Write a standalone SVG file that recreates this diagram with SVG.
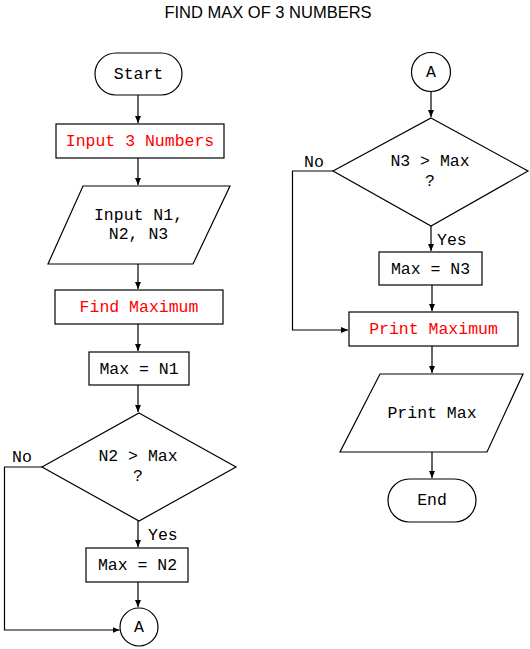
<svg xmlns="http://www.w3.org/2000/svg" width="530" height="649" viewBox="0 0 530 649">
<style>
.s{fill:#fff;stroke:#000;stroke-width:1.2}
.t{font-family:"Liberation Mono","Courier New",monospace;font-size:16.5px;fill:#000;text-anchor:middle}
.r{fill:#ff0000}
.l{font-family:"Liberation Mono","Courier New",monospace;font-size:16.5px;fill:#000}
.c{fill:none;stroke:#000;stroke-width:1.2}
</style>
<defs>
<marker id="ah" markerWidth="8" markerHeight="8" refX="7" refY="4" orient="auto" markerUnits="userSpaceOnUse">
<path d="M0,1 L7,4 L0,7 Z" fill="#000"/>
</marker>
</defs>
<rect width="530" height="649" fill="#fff"/>
<text x="268" y="18" font-family="Liberation Sans, Arial, sans-serif" font-size="16.5" text-anchor="middle">FIND MAX OF 3 NUMBERS</text>
<g id="connectors">
<path class="c" d="M138,95 V123" marker-end="url(#ah)"/>
<path class="c" d="M138,158 V185" marker-end="url(#ah)"/>
<path class="c" d="M138,264 V289" marker-end="url(#ah)"/>
<path class="c" d="M138,324 V351" marker-end="url(#ah)"/>
<path class="c" d="M138,385 V412" marker-end="url(#ah)"/>
<path class="c" d="M138,521 V547" marker-end="url(#ah)"/>
<path class="c" d="M138,582 V607" marker-end="url(#ah)"/>
<path class="c" d="M42,467 H4.5 V630 H119.5" marker-end="url(#ah)"/>
<path class="c" d="M431,91 V117" marker-end="url(#ah)"/>
<path class="c" d="M431,226 V251" marker-end="url(#ah)"/>
<path class="c" d="M432,285 V311" marker-end="url(#ah)"/>
<path class="c" d="M333,171 H292.5 V330 H348" marker-end="url(#ah)"/>
<path class="c" d="M432,346 V373" marker-end="url(#ah)"/>
<path class="c" d="M432,452 V478" marker-end="url(#ah)"/>
<text class="l" x="12" y="462">No</text>
<text class="l" x="148" y="540">Yes</text>
<text class="l" x="304" y="167">No</text>
<text class="l" x="437" y="245">Yes</text>
</g>
<g id="start">
<rect class="s" x="95" y="53" width="87" height="42" rx="21" ry="21"/>
<text class="t" x="138.5" y="79">Start</text>
</g>
<g id="input3">
<rect class="s" x="56" y="124" width="168" height="34"/>
<text class="t r" x="140" y="146">Input 3 Numbers</text>
</g>
<g id="inputN">
<polygon class="s" points="83,186 230,186 193,264 48,264"/>
<text class="t" x="138.5" y="220">Input N1,</text>
<text class="t" x="138.5" y="239">N2, N3</text>
</g>
<g id="findmax">
<rect class="s" x="55" y="290" width="168" height="34"/>
<text class="t r" x="139" y="312">Find Maximum</text>
</g>
<g id="maxn1">
<rect class="s" x="89" y="352" width="100" height="33"/>
<text class="t" x="139" y="374">Max = N1</text>
</g>
<g id="dec1">
<polygon class="s" points="139,413 236,467 139,521 42,467"/>
<text class="t" x="138" y="461">N2 &gt; Max</text>
<text class="t" x="138" y="481">?</text>
</g>
<g id="maxn2">
<rect class="s" x="86" y="548" width="102" height="34"/>
<text class="t" x="137.5" y="570">Max = N2</text>
</g>
<g id="connA1">
<circle class="s" cx="139" cy="627" r="19"/>
<text class="t" x="139" y="632">A</text>
</g>
<g id="connA2">
<circle class="s" cx="431" cy="72" r="19.5"/>
<text class="t" x="431" y="77">A</text>
</g>
<g id="dec2">
<polygon class="s" points="431,118 528,171 431,226 333,171"/>
<text class="t" x="430" y="166">N3 &gt; Max</text>
<text class="t" x="430" y="186">?</text>
</g>
<g id="maxn3">
<rect class="s" x="379" y="252" width="103" height="33"/>
<text class="t" x="430.5" y="274">Max = N3</text>
</g>
<g id="printmax">
<rect class="s" x="349" y="312" width="169" height="34"/>
<text class="t r" x="433.5" y="334">Print Maximum</text>
</g>
<g id="printMaxIO">
<polygon class="s" points="380,374 523,374 487,452 340,452"/>
<text class="t" x="432" y="418">Print Max</text>
</g>
<g id="end">
<rect class="s" x="388" y="479" width="88" height="43" rx="21.5" ry="21.5"/>
<text class="t" x="432" y="505">End</text>
</g>
</svg>
